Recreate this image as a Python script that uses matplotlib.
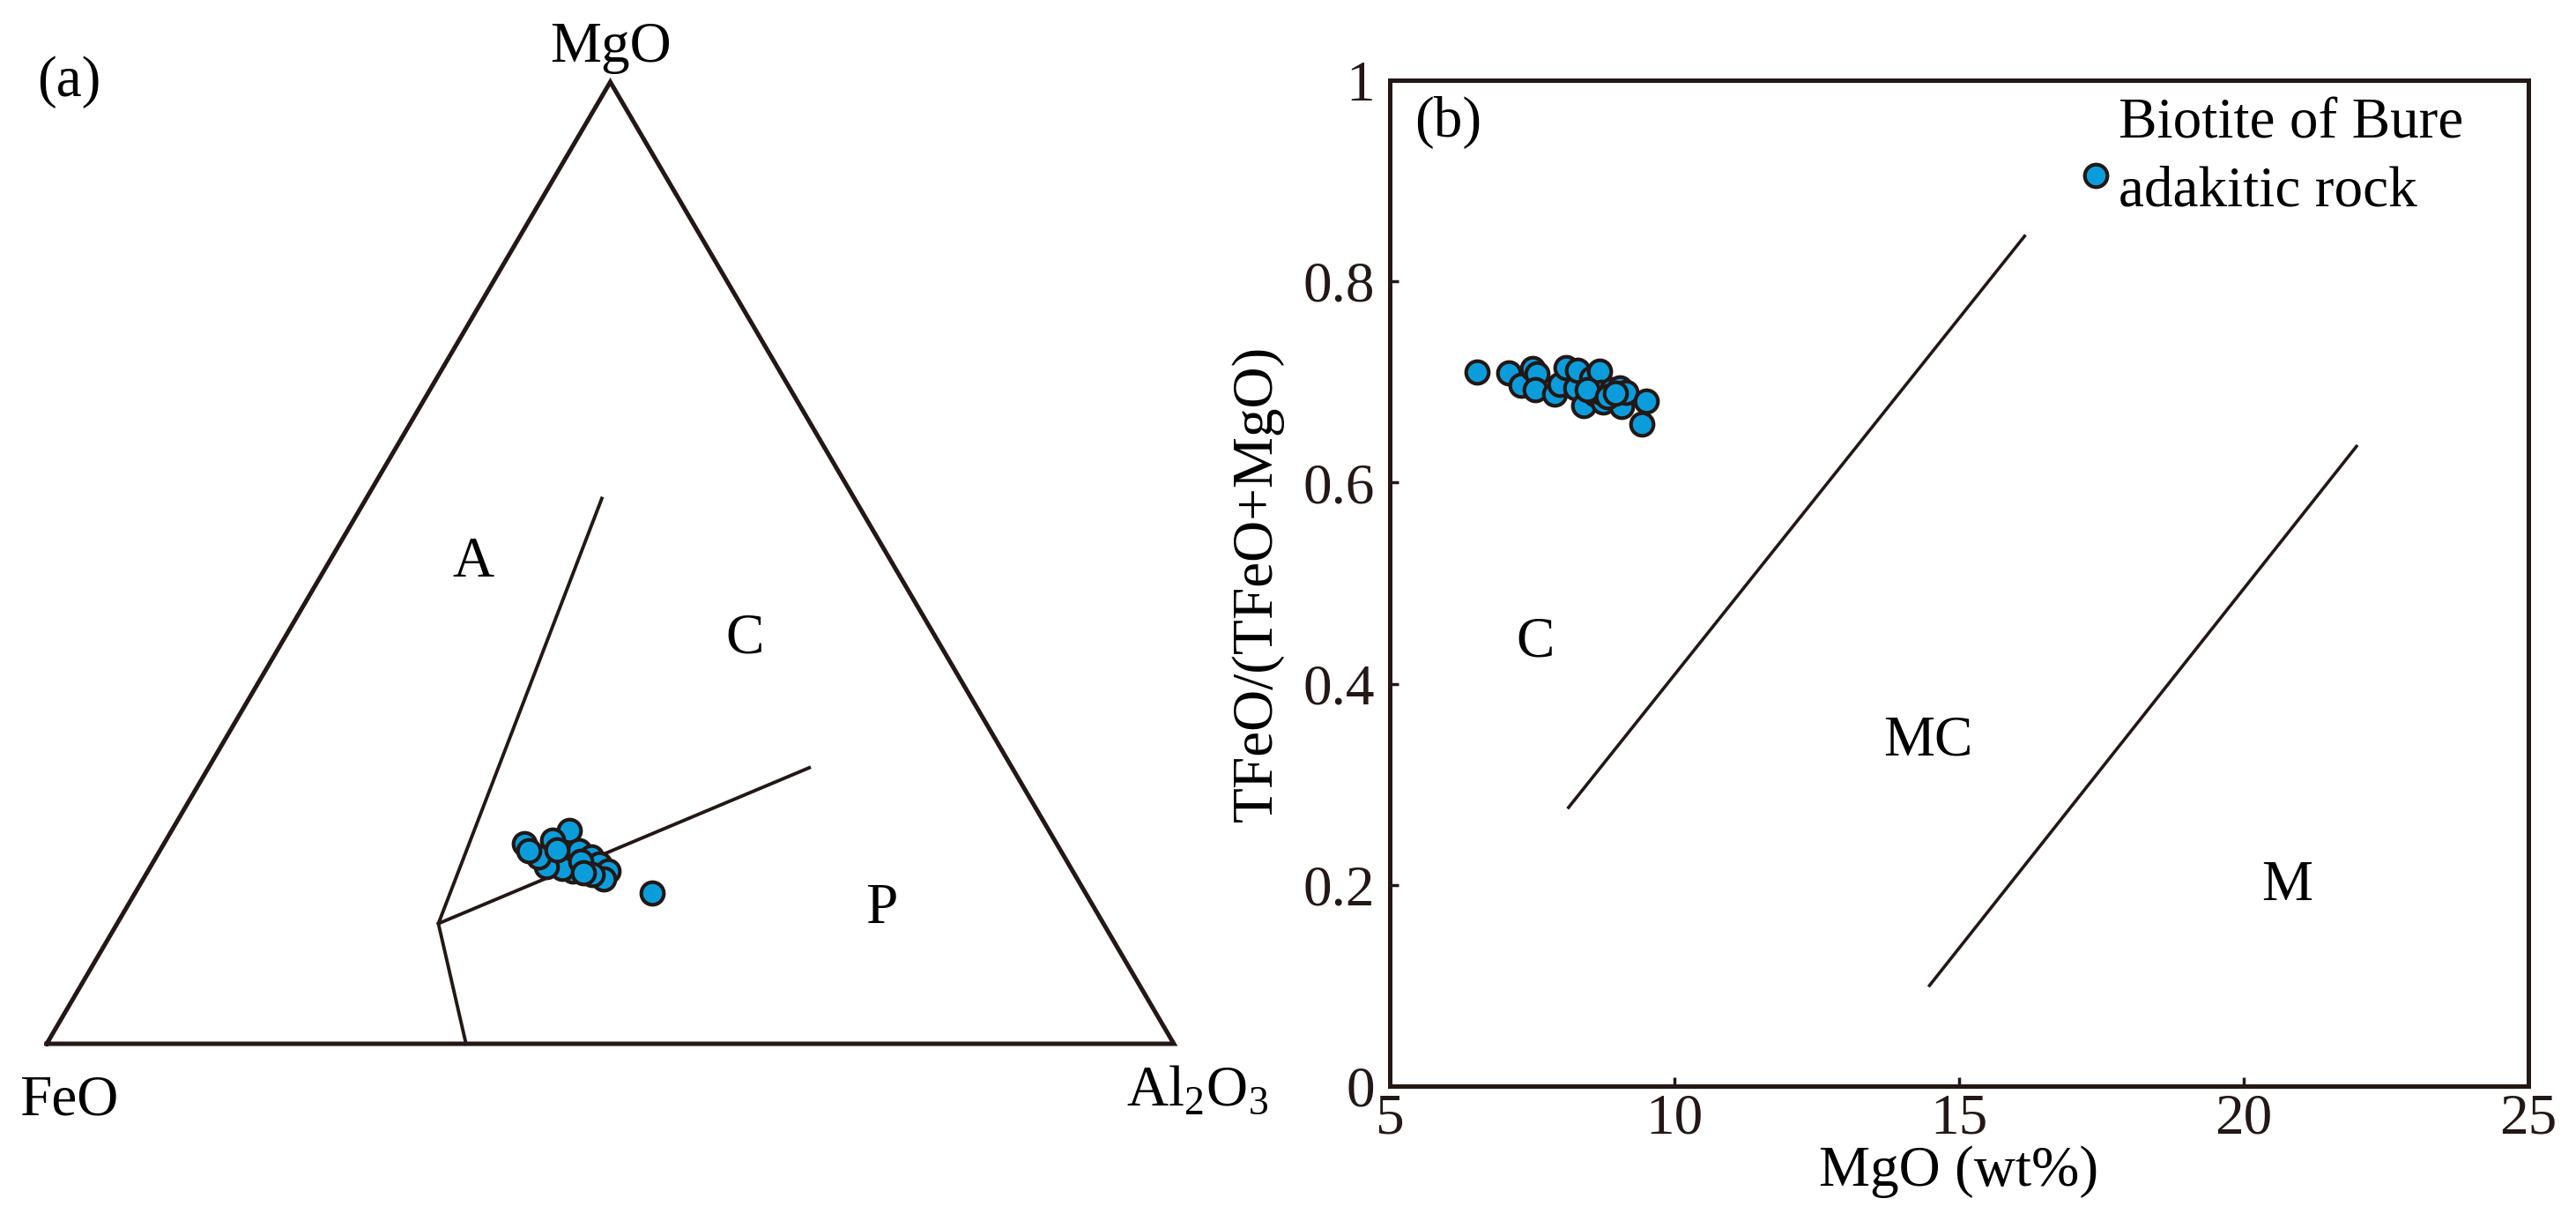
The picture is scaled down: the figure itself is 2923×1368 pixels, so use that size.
import numpy as np
import matplotlib.pyplot as plt

plt.rcParams["font.family"] = ["Liberation Serif", "DejaVu Serif"]
plt.rcParams["mathtext.fontset"] = "custom"
plt.rcParams["mathtext.rm"] = "Liberation Serif"

# Data
# (a) ternary FeO - MgO - Al2O3 (wt% fractions)
tern_feo = [47.2, 42.5, 44.5, 46.2, 44.2, 42.7, 42.0, 41.6, 41.2, 42.0,
            42.8, 44.3, 45.2, 46.5, 46.7, 43.1, 38.4, 44.6, 43.5, 47.2]
tern_mgo = [20.8, 22.2, 21.2, 19.3, 19.4, 20.1, 19.4, 18.7, 18.0, 17.1,
            17.6, 18.0, 18.2, 18.4, 19.4, 19.0, 15.7, 20.2, 17.8, 20.1]
tern_al = [32.0, 35.3, 34.3, 34.5, 36.4, 37.2, 38.6, 39.7, 40.8, 40.9,
           39.6, 37.7, 36.6, 35.1, 33.9, 37.9, 45.9, 35.2, 38.7, 32.7]

# field boundaries (FeO, MgO, Al2O3)
bound_ac = [(22.4, 56.7, 20.9), (59.0, 12.5, 28.5), (62.8, 0.0, 37.2)]
bound_cp = [(59.0, 12.5, 28.5), (18.0, 28.7, 53.3)]

# (b) MgO vs TFeO/(TFeO+MgO)
mgo = [6.54, 7.09, 7.30, 7.51, 7.59, 7.56, 7.90, 7.98, 8.09, 8.26,
       8.30, 8.40, 8.54, 8.68, 8.61, 8.75, 8.72, 8.90, 9.04, 9.07,
       9.15, 9.43, 9.50, 8.47, 8.83, 8.97]
fe_ratio = [0.710, 0.709, 0.697, 0.713, 0.708, 0.692, 0.688, 0.698, 0.714, 0.694,
            0.712, 0.677, 0.704, 0.711, 0.688, 0.680, 0.690, 0.692, 0.694, 0.676,
            0.690, 0.658, 0.681, 0.692, 0.685, 0.689]

line_c_mc_x = [8.14, 16.15]
line_c_mc_y = [0.277, 0.845]
line_mc_m_x = [14.48, 21.98]
line_mc_m_y = [0.100, 0.636]

x_ticks = [5, 10, 15, 20, 25]
y_ticks = [0, 0.2, 0.4, 0.6, 0.8, 1]
y_tick_labels = ["0", "0.2", "0.4", "0.6", "0.8", "1"]

blue = "#0b9ddb"
dark = "#231815"
fs = 47


def tern_xy(fe, mg, al):
    fe = np.asarray(fe, float)
    mg = np.asarray(mg, float)
    al = np.asarray(al, float)
    tot = fe + mg + al
    return (al + mg / 2) / tot, mg / tot


W, H = 2923, 1368
fig = plt.figure(figsize=(W / 100, H / 100), dpi=100)

# (a) ternary
ax1 = fig.add_axes([53 / W, 1 - 1184 / H, 1279 / W, 1091 / H])
ax1.set_xlim(0, 1)
ax1.set_ylim(0, 1)
ax1.axis("off")

ax1.plot([0, 1, 0.5, 0], [0, 0, 1, 0], color=dark, lw=3.6,
         solid_joinstyle="miter", clip_on=False)

for b in [bound_ac, bound_cp]:
    fe, mg, al = zip(*b)
    bx, by = tern_xy(fe, mg, al)
    ax1.plot(bx, by, color=dark, lw=2.8, clip_on=False)

tx, ty = tern_xy(tern_feo, tern_mgo, tern_al)
ax1.scatter(tx, ty, s=340, c=blue, edgecolors=dark, linewidths=3.0,
            zorder=3, clip_on=False)

ax1.text(0.5, 1.021, "MgO", ha="center", va="baseline", fontsize=fs)
ax1.text(-0.024, -0.074, "FeO", ha="left", va="baseline", fontsize=fs)
ax1.text(0.958, -0.064, r"Al$_2$O$_3$", ha="left", va="baseline", fontsize=fs)
ax1.text(0.020, 1.000, "(a)", ha="center", va="center", fontsize=fs)
ax1.text(0.378, 0.500, "A", ha="center", va="center", fontsize=fs)
ax1.text(0.619, 0.421, "C", ha="center", va="center", fontsize=fs)
ax1.text(0.741, 0.140, "P", ha="center", va="center", fontsize=fs)

# (b) MgO vs TFeO/(TFeO+MgO)
ax2 = fig.add_axes([1577 / W, 1 - 1232 / H, 1292 / W, 1141 / H])
ax2.set_xlim(5, 25)
ax2.set_ylim(0, 1)

ax2.plot(line_c_mc_x, line_c_mc_y, color=dark, lw=2.6)
ax2.plot(line_mc_m_x, line_mc_m_y, color=dark, lw=2.6)

ax2.scatter(mgo, fe_ratio, s=340, c=blue, edgecolors=dark, linewidths=3.0,
            zorder=3)

ax2.set_xticks(x_ticks)
ax2.set_yticks(y_ticks)
ax2.set_yticklabels(y_tick_labels)
ax2.tick_params(direction="in", length=7, width=2.5, labelsize=fs,
                colors=dark)
ax2.tick_params(axis="x", pad=6)
ax2.tick_params(axis="y", pad=12)
for sp in ax2.spines.values():
    sp.set_linewidth(3.6)
    sp.set_color(dark)

ax2.set_xlabel("MgO (wt%)", fontsize=fs, labelpad=0)
ax2.set_ylabel("TFeO/(TFeO+MgO)", fontsize=fs, labelpad=16)

ax2.text(6.03, 0.958, "(b)", ha="center", va="center", fontsize=fs)
ax2.text(7.56, 0.441, "C", ha="center", va="center", fontsize=fs)
ax2.text(14.45, 0.343, "MC", ha="center", va="center", fontsize=fs)
ax2.text(20.76, 0.199, "M", ha="center", va="center", fontsize=fs)

# legend
ax2.scatter([17.40], [0.905], s=340, c=blue, edgecolors=dark, linewidths=3.0)
ax2.text(17.80, 0.956, "Biotite of Bure", ha="left", va="center", fontsize=fs)
ax2.text(17.80, 0.889, "adakitic rock", ha="left", va="center", fontsize=fs)

plt.savefig("out.png", dpi=100)
